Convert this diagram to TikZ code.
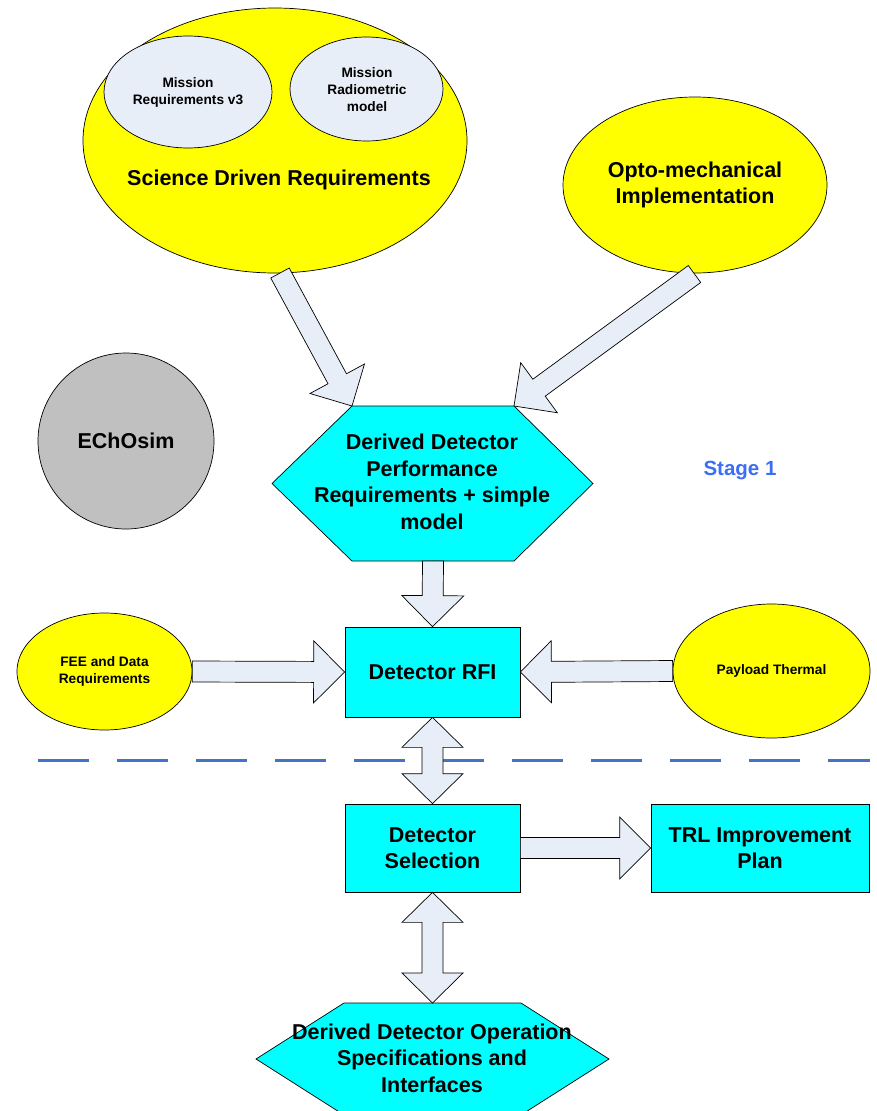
\documentclass[tikz,border=0pt]{standalone}
\usepackage{fontspec}
\setmainfont{Liberation Sans}
\usetikzlibrary{shapes.geometric,calc}
\definecolor{yel}{RGB}{255,255,0}
\definecolor{cya}{RGB}{0,255,255}
\definecolor{pale}{RGB}{232,238,247}
\definecolor{grayc}{RGB}{192,192,192}
\definecolor{dashblue}{RGB}{68,114,196}
\definecolor{stageblue}{RGB}{60,110,245}
\tikzset{
 outl/.style={draw=black, line width=0.7pt},
 yell/.style={outl, ellipse, fill=yel, inner sep=0pt},
 paleell/.style={outl, ellipse, fill=pale, inner sep=0pt},
 box/.style={outl, rectangle, fill=cya, inner sep=0pt},
 hexa/.style={outl, fill=cya, line join=miter},
 bigtxt/.style={font=\bfseries\fontsize{21.5}{26.5}\selectfont, align=center, inner sep=0pt},
 smalltxt/.style={font=\bfseries\fontsize{13.7}{17}\selectfont, align=center, inner sep=0pt},
 blockarr/.style={outl, fill=pale, line join=miter},
 sepline/.style={dashblue, line width=3pt, dash pattern=on 51pt off 28pt},
}
% single block arrow from #1 to #2
\newcommand\singlearrow[2]{%
 \path ($(#2)!31pt!(#1)$) coordinate (hb);
 \draw[blockarr] ($(#1)!10.5pt!90:(#2)$) -- ($(hb)!10.5pt!90:(#2)$) -- ($(hb)!31pt!90:(#2)$) -- (#2)
   -- ($(hb)!31pt!-90:(#2)$) -- ($(hb)!10.5pt!-90:(#2)$) -- ($(#1)!10.5pt!-90:(#2)$) -- cycle;}
% double block arrow between #1 and #2
\newcommand\doublearrow[2]{%
 \path ($(#1)!30pt!(#2)$) coordinate (hba);
 \path ($(#2)!30pt!(#1)$) coordinate (hbb);
 \draw[blockarr] (#1) -- ($(hba)!30.5pt!90:(#2)$) -- ($(hba)!10.5pt!90:(#2)$) -- ($(hbb)!10.5pt!-90:(#1)$)
   -- ($(hbb)!30.5pt!-90:(#1)$) -- (#2) -- ($(hbb)!30.5pt!90:(#1)$) -- ($(hbb)!10.5pt!90:(#1)$)
   -- ($(hba)!10.5pt!-90:(#2)$) -- ($(hba)!30.5pt!-90:(#2)$) -- cycle;}
\begin{document}
\begin{tikzpicture}[x=1pt,y=-1pt]
\useasboundingbox (0,0) rectangle (877,1111);
\clip (0,0) rectangle (877,1111);
% separator
\coordinate (sepL) at (38,760);
\coordinate (sepR) at (870,760);
\draw[sepline] (sepL) -- (sepR);
% ellipses
\node[yell, minimum width=384pt, minimum height=265pt] (sci) at (275,140.5) {};
\node[paleell, minimum width=168pt, minimum height=112pt] (m1) at (188,92) {};
\node[smalltxt] at (188,92) {Mission\\Requirements v3};
\node[paleell, minimum width=153pt, minimum height=104pt] (m2) at (366.5,89) {};
\node[smalltxt] at (367,89.5) {Mission\\Radiometric\\model};
\node[bigtxt] (scitext) at (279,180) {Science Driven Requirements};
\node[yell, minimum width=264pt, minimum height=176pt, bigtxt] (opto) at (695,185) {Opto-mechanical\\Implementation};
\node[outl, circle, fill=grayc, minimum size=176pt, inner sep=0pt, bigtxt] (echo) at (126,441) {EChOsim};
\node[font=\bfseries\fontsize{20.5}{24}\selectfont, text=stageblue, inner sep=0pt] (stage) at (740,471) {Stage 1};
\node[yell, minimum width=175pt, minimum height=117pt, smalltxt] (fee) at (104.5,671.5) {FEE and Data\\Requirements};
\node[yell, minimum width=197pt, minimum height=134pt, smalltxt] (pay) at (771.5,671) {Payload Thermal};
% hexagon 1
\coordinate (h1tl) at (352,406);
\coordinate (h1tr) at (514,406);
\coordinate (h1r) at (593,483.5);
\coordinate (h1br) at (514,561);
\coordinate (h1b) at (433,561);
\coordinate (h1bl) at (352,561);
\coordinate (h1l) at (272,483.5);
\draw[hexa] (h1tl) -- (h1tr) -- (h1r) -- (h1br) -- (h1bl) -- (h1l) -- cycle;
\node[bigtxt] (hex1) at (432,482) {Derived Detector\\Performance\\Requirements + simple\\model};
% boxes
\node[box, minimum width=175pt, minimum height=90pt, bigtxt] (rfi) at (432.5,672) {Detector RFI};
\node[box, minimum width=175pt, minimum height=88pt, bigtxt] (sel) at (432.5,848) {Detector\\Selection};
\node[box, minimum width=218pt, minimum height=88pt, bigtxt] (trl) at (760,848) {TRL Improvement\\Plan};
% hexagon 2
\coordinate (h2tl) at (344,1003);
\coordinate (h2t) at (432.5,1003);
\coordinate (h2tr) at (521,1003);
\coordinate (h2r) at (609,1059);
\coordinate (h2br) at (521,1115);
\coordinate (h2bl) at (344,1115);
\coordinate (h2l) at (256,1059);
\draw[hexa] (h2tl) -- (h2tr) -- (h2r) -- (h2br) -- (h2bl) -- (h2l) -- cycle;
\node[bigtxt] (hex2) at (432,1058) {Derived Detector Operation\\Specifications and\\Interfaces};
% arrows
\coordinate (sciout) at (280,273);
\coordinate (optoout) at (694.5,274);
\singlearrow{sciout}{h1tl}
\singlearrow{optoout}{h1tr}
\singlearrow{h1b}{rfi.north}
\singlearrow{fee.east}{rfi.west}
\singlearrow{pay.west}{rfi.east}
\doublearrow{rfi.south}{sel.north}
\singlearrow{sel.east}{trl.west}
\doublearrow{sel.south}{h2t}
\end{tikzpicture}
\end{document}
